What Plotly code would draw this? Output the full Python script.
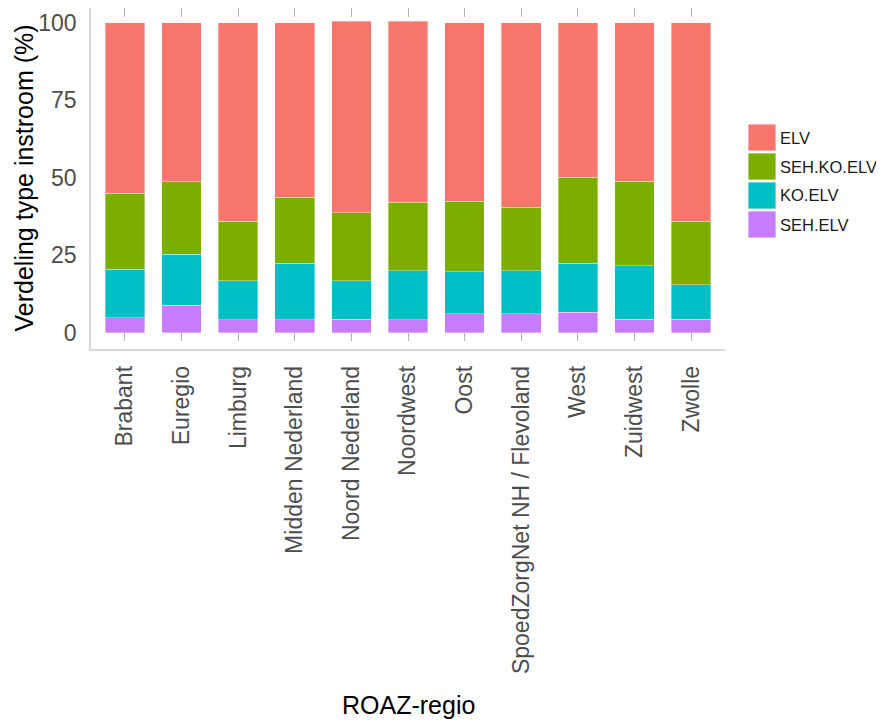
import plotly.graph_objects as go

# data (percentages)
regios = ['Brabant', 'Euregio', 'Limburg', 'Midden Nederland', 'Noord Nederland',
          'Noordwest', 'Oost', 'SpoedZorgNet NH / Flevoland', 'West', 'Zuidwest', 'Zwolle']
seh_elv = [4.8, 8.9, 4.1, 4.1, 4.4, 4.1, 6.1, 6.1, 6.6, 4.4, 4.4]
ko_elv = [15.6, 16.4, 12.6, 18.3, 12.3, 15.9, 13.5, 13.9, 15.8, 17.2, 11.1]
seh_ko_elv = [24.6, 23.3, 19.2, 21.3, 22.0, 22.0, 22.8, 20.5, 27.8, 27.3, 20.4]
elv = [55.0, 51.4, 64.1, 56.3, 61.8, 58.5, 57.6, 59.5, 49.8, 51.1, 64.1]

series = [('SEH.ELV', seh_elv, '#C77CFF'),
          ('KO.ELV', ko_elv, '#00BFC4'),
          ('SEH.KO.ELV', seh_ko_elv, '#7CAE00'),
          ('ELV', elv, '#F8766D')]

FONT = 'Liberation Sans, Arial, sans-serif'

# plot panel in page pixels (the page body adds an 8px offset)
PX0, PX1, PY0, PY1 = 91, 725, 8, 349


def px(p):
    return (p - PX0) / (PX1 - PX0)


def py(p):
    return (PY1 - p) / (PY1 - PY0)


fig = go.Figure()
for name, vals, kleur in series:
    fig.add_trace(go.Bar(x=regios, y=vals, name=name, width=0.7,
                         marker=dict(color=kleur, line=dict(width=0.6, color='rgba(255,255,255,0.6)')),
                         showlegend=False))

fig.update_layout(
    width=884, height=720,
    barmode='stack',
    plot_bgcolor='white', paper_bgcolor='white',
    margin=dict(l=PX0 - 8, r=884 - (PX1 - 8), t=0, b=720 - (PY1 - 8)),
    font=dict(family=FONT),
)
fig.update_xaxes(range=[-0.6, 10.6], showgrid=True, gridcolor='#b3b3b3', griddash='dash', gridwidth=1,
                 showline=True, linecolor='#d9d9d9', linewidth=1.5, automargin=False,
                 tickangle=-90, tickfont=dict(size=23, color='#4d4d4d'), ticklabelstandoff=6)
fig.update_yaxes(range=[-5.26, 104.7], tickvals=[0, 25, 50, 75, 100], showgrid=False, zeroline=False,
                 showline=True, linecolor='#d9d9d9', linewidth=1.5, automargin=False,
                 tickfont=dict(size=23, color='#4d4d4d'), ticklabelstandoff=8)

# axis titles
fig.add_annotation(text='ROAZ-regio', xref='paper', yref='paper', x=0.5, y=py(705),
                   showarrow=False, font=dict(size=25, color='black'), yanchor='middle')
fig.add_annotation(text='Verdeling type instroom (%)', xref='paper', yref='paper', x=px(23), y=0.5,
                   textangle=-90, showarrow=False, font=dict(size=25, color='black'), xanchor='center')

# legend (ELV on top, like ggplot)
legend_items = list(reversed(series))
for i, (name, vals, kleur) in enumerate(legend_items):
    top = 124 + i * 29
    y0 = py(top + 27)
    y1 = py(top)
    fig.add_shape(type='rect', xref='paper', yref='paper',
                  x0=px(748), x1=px(776), y0=y0, y1=y1,
                  fillcolor=kleur, line=dict(color='rgba(255,255,255,0.8)', width=1))
    fig.add_annotation(text=name, xref='paper', yref='paper', x=px(778), y=(y0 + y1) / 2,
                       xanchor='left', yanchor='middle', showarrow=False,
                       font=dict(size=16.5, color='#1a1a1a'))

fig.write_html('out.html')
